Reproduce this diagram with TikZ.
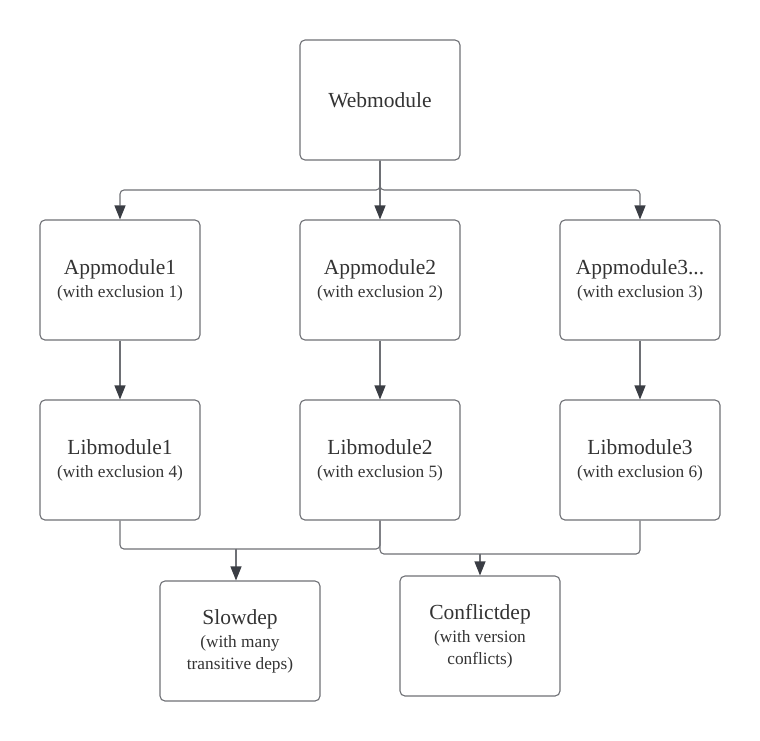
\documentclass[tikz,border=0pt]{standalone}
\usepackage{fontspec}
\setmainfont{Liberation Serif}
\usetikzlibrary{arrows.meta}
\definecolor{boxline}{HTML}{6E7075}
\definecolor{txt}{HTML}{333333}
\definecolor{arr}{HTML}{3A3D44}
\tikzset{
  mod/.style={draw=boxline, line width=1.1pt, rounded corners=5pt, minimum width=160pt, minimum height=120pt, align=center, text=txt, inner sep=0pt, font=\fontsize{21.5}{24}\selectfont},
  conn/.style={draw=boxline, line width=1.1pt, rounded corners=4pt, -{Triangle[length=14pt,width=11pt,fill=arr,color=arr]}},
  connplain/.style={draw=boxline, line width=1.1pt, rounded corners=4pt},
}
\newcommand{\sub}[1]{{\fontsize{17.3}{22}\selectfont #1}}
\begin{document}
\begin{tikzpicture}[x=1pt,y=-1pt]
\useasboundingbox (0,0) rectangle (760,740);
\node[mod] (web) at (380,100) {Webmodule};
\node[mod] (app1) at (120,280) {Appmodule1\\[-1pt]\sub{(with exclusion 1)}};
\node[mod] (app2) at (380,280) {Appmodule2\\[-1pt]\sub{(with exclusion 2)}};
\node[mod] (app3) at (640,280) {Appmodule3...\\[-1pt]\sub{(with exclusion 3)}};
\node[mod] (lib1) at (120,460) {Libmodule1\\[-1pt]\sub{(with exclusion 4)}};
\node[mod] (lib2) at (380,460) {Libmodule2\\[-1pt]\sub{(with exclusion 5)}};
\node[mod] (lib3) at (640,460) {Libmodule3\\[-1pt]\sub{(with exclusion 6)}};
\node[mod] (slow) at (240,641) {Slowdep\\[-1pt]\sub{(with many}\\[-2pt]\sub{transitive deps)}};
\node[mod] (conf) at (480,636) {Conflictdep\\[-1pt]\sub{(with version}\\[-2pt]\sub{conflicts)}};
\coordinate (jt) at (380,190);
\coordinate (jb1) at (236,549);
\coordinate (jb2) at (480,554);
% top fan-out
\draw[conn] (web.south) -- (jt) -- (app2.north);
\draw[conn] (web.south) |- (jt) -| (app1.north);
\draw[conn] (web.south) |- (jt) -| (app3.north);
% app -> lib
\draw[conn] (app1) -- (lib1);
\draw[conn] (app2) -- (lib2);
\draw[conn] (app3) -- (lib3);
% bottom
\draw[connplain] (lib1.south) |- (jb1);
\draw[connplain] (lib2.south) |- (jb1);
\draw[conn] (jb1) -- (jb1 |- slow.north);
\draw[connplain] (lib2.south) |- (jb2);
\draw[connplain] (lib3.south) |- (jb2);
\draw[conn] (jb2) -- (jb2 |- conf.north);
\end{tikzpicture}
\end{document}
